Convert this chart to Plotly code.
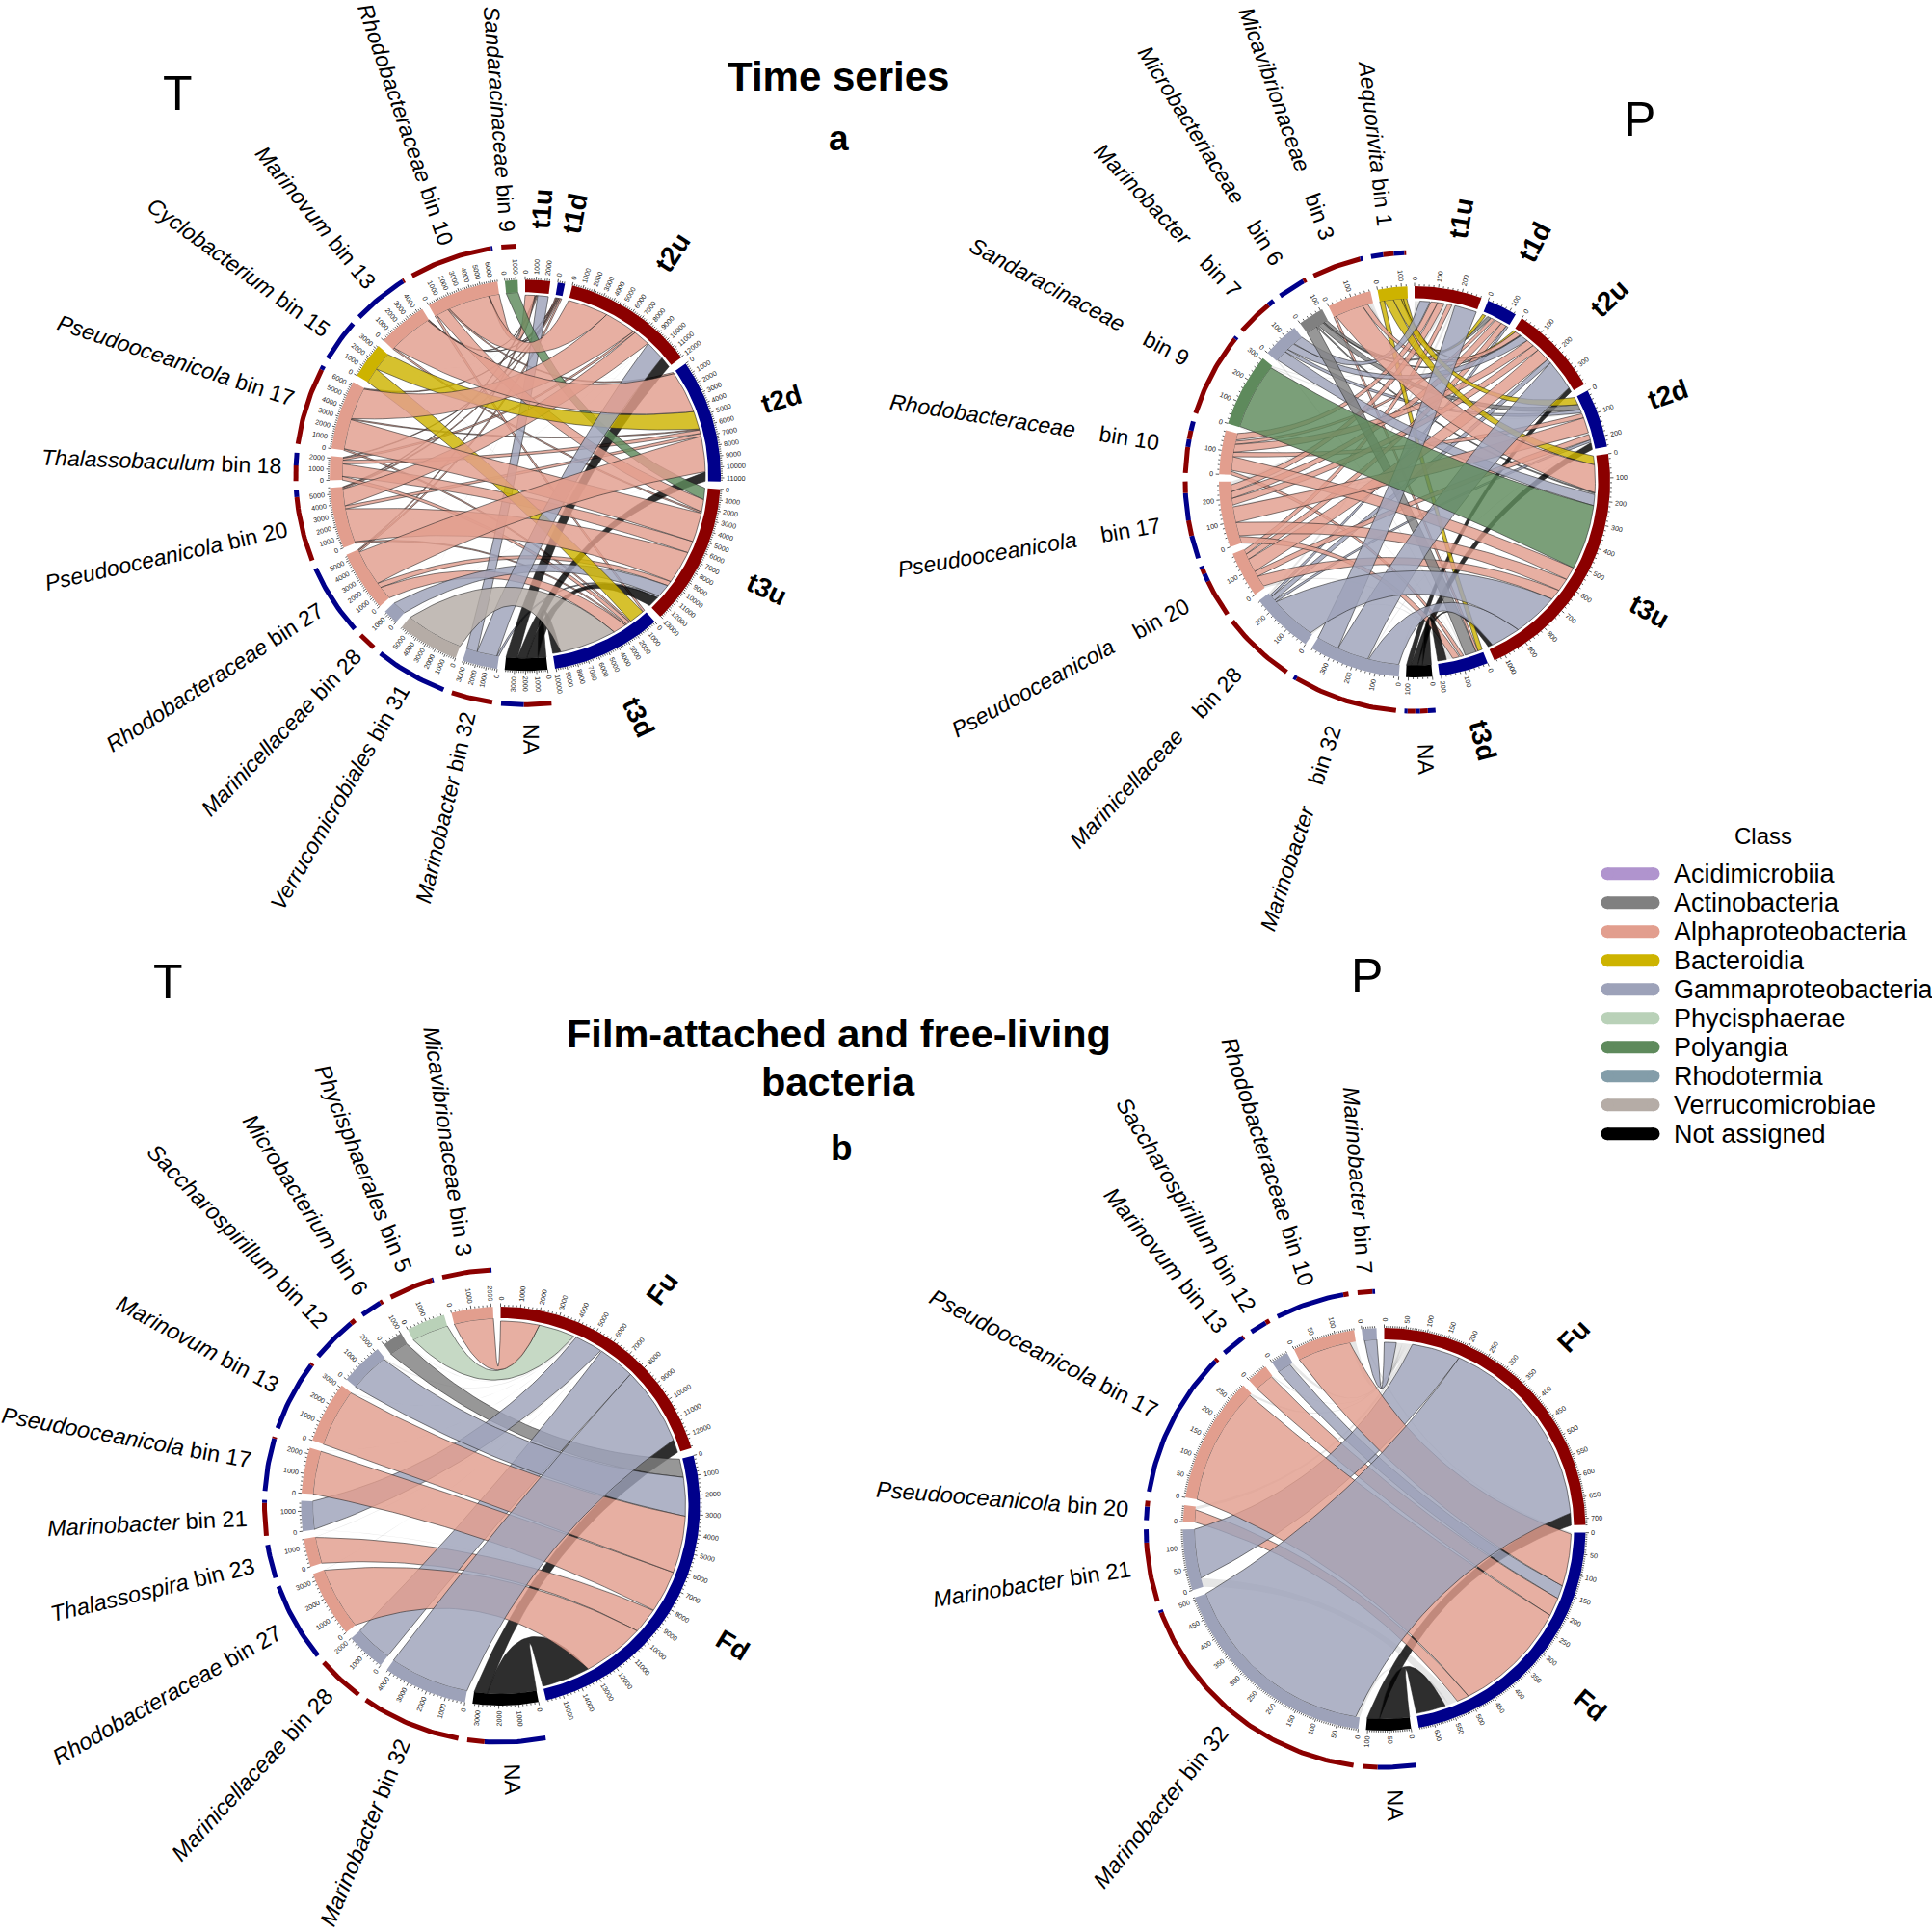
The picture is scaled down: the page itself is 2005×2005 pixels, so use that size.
import math
import re
import plotly.graph_objects as go

CLASS_COLORS = {
    "Acidimicrobiia": "#B094CE", "Actinobacteria": "#808080", "Alphaproteobacteria": "#E29E8E",
    "Bacteroidia": "#CDB300", "Gammaproteobacteria": "#9DA2B9", "Phycisphaerae": "#B9D1B8",
    "Polyangia": "#5E8A5C", "Rhodotermia": "#839DA9", "Verrucomicrobiae": "#B5ACA6", "Not assigned": "#000000",
}
LEGEND_NAMES = list(CLASS_COLORS)
RED, BLUE = "#8B0000", "#00008B"
AL, GA, BA, AC, PO, VE, PH, NO = ("Alphaproteobacteria", "Gammaproteobacteria", "Bacteroidia", "Actinobacteria",
                                  "Polyangia", "Verrucomicrobiae", "Phycisphaerae", "Not assigned")
S = "\u00a0\u00a0\u00a0\u00a0"

# ---------- Panel a, T ----------
A_T_SAMPLES = ["t1u", "t1d", "t2u", "t2d", "t3u", "t3d"]
A_T_BINS = ["NA", "<i>Marinobacter</i> bin 32", "<i>Verrucomicrobiales</i> bin 31", "<i>Marinicellaceae</i> bin 28",
            "<i>Rhodobacteraceae</i> bin 27", "<i>Pseudooceanicola</i> bin 20", "<i>Thalassobaculum</i> bin 18",
            "<i>Pseudooceanicola</i> bin 17", "<i>Cyclobacterium</i> bin 15", "<i>Marinovum</i> bin 13",
            "<i>Rhodobacteraceae</i> bin 10", "<i>Sandaracinaceae</i> bin 9"]
A_T_CLASS = [NO, GA, VE, GA, AL, AL, AL, AL, BA, AL, AL, PO]
A_T_FLOWS = [
    {"t3d": 800, "t3u": 1100, "t2d": 900, "t2u": 1100},
    {"t3u": 200, "t2u": 1950, "t1u": 1050},
    {"t3d": 5600},
    {"t3u": 1350},
    {"t3d": 1300, "t3u": 500, "t2d": 3500, "t1d": 150, "t1u": 100},
    {"t3d": 150, "t3u": 3300, "t2d": 300, "t2u": 1650, "t1d": 120, "t1u": 80},
    {"t3d": 350, "t3u": 1200, "t2d": 350, "t2u": 200, "t1d": 80},
    {"t3d": 150, "t3u": 2900, "t2d": 100, "t2u": 3100, "t1d": 100},
    {"t3d": 1500, "t2d": 1800},
    {"t3u": 150, "t2d": 4200, "t1d": 100, "t1u": 50},
    {"t3d": 200, "t3u": 1200, "t2d": 150, "t2u": 4000, "t1d": 100, "t1u": 950},
    {"t3u": 1150},
]
A_T_FAINT = [
    {}, {"t3d": 20}, {"t2d": 25, "t1u": 15}, {"t2u": 15, "t1d": 15}, {"t2u": 20}, {}, {"t1u": 10},
    {"t1u": 15}, {"t1u": 15}, {"t3d": 25}, {}, {"t2d": 15},
]
A_T_RING = [[("r", .55), ("b", .45)], [("r", 1)], [("b", 1)], [("r", 1)], [("b", 1)], [("r", .9), ("b", .1)],
            [("r", .55), ("b", .45)], [("r", .95), ("b", .05)], [("b", 1)], [("b", .97), ("r", .03)],
            [("r", .98), ("b", .02)], [("r", 1)]]

# ---------- Panel a, P ----------
A_P_SAMPLES = ["t1u", "t1d", "t2u", "t2d", "t3u", "t3d"]
A_P_BINS = ["NA", f"<i>Marinobacter</i>{S}bin 32", f"<i>Marinicellaceae</i>{S}bin 28",
            f"<i>Pseudooceanicola</i>{S}bin 20", f"<i>Pseudooceanicola</i>{S}bin 17",
            f"<i>Rhodobacteraceae</i>{S}bin 10", f"<i>Sandaracinaceae</i>{S}bin 9", f"<i>Marinobacter</i>{S}bin 7",
            f"<i>Microbacteriaceae</i>{S}bin 6", f"<i>Micavibrionaceae</i>{S}bin 3", "<i>Aequorivita</i> bin 1"]
A_P_CLASS = [NO, GA, GA, AL, AL, AL, PO, GA, AC, AL, BA]
A_P_FLOWS = [
    {"t3d": 40, "t3u": 20, "t2d": 30, "t2u": 20},
    {"t3u": 135, "t2u": 140, "t1u": 100},
    {"t3u": 205, "t2d": 10, "t2u": 20, "t1d": 10},
    {"t3u": 50, "t2d": 25, "t2u": 60, "t1d": 25, "t1u": 20},
    {"t3d": 30, "t3u": 60, "t2d": 70, "t2u": 30, "t1d": 30, "t1u": 30},
    {"t3d": 15, "t3u": 60, "t2d": 20, "t2u": 35, "t1d": 15, "t1u": 30},
    {"t3u": 295},
    {"t3u": 50, "t2d": 15, "t2u": 35, "t1u": 45},
    {"t3d": 50, "t3u": 5, "t2d": 25, "t2u": 5, "t1d": 15},
    {"t3d": 10, "t3u": 125, "t2u": 25},
    {"t3d": 20, "t3u": 40, "t2d": 35, "t2u": 10, "t1d": 15},
]
A_P_FAINT = [
    {}, {"t3d": 5, "t2d": 4}, {"t3d": 10, "t1u": 10}, {"t3d": 10, "t1u": 4}, {"t1u": 15, "t2d": 8, "t3d": 4},
    {"t3d": 5, "t1d": 5}, {"t2d": 5, "t1u": 5, "t3d": 3},
    {"t3d": 5, "t1d": 3}, {"t3u": 4, "t1u": 4}, {"t1u": 15, "t1d": 10}, {"t1u": 5},
]
A_P_RING = [[("b", .25), ("r", .25), ("b", .15), ("r", .25), ("b", .1)], [("r", .97), ("b", .03)], [("r", 1)],
            [("r", .7), ("b", .15), ("r", .1), ("b", .05)], [("b", .3), ("r", .2), ("b", .35), ("r", .15)],
            [("r", .5), ("b", .15), ("r", .17), ("b", .18)], [("r", .97), ("b", .03)], [("r", .85), ("b", .15)],
            [("b", .9), ("r", .1)], [("r", .95), ("b", .05)], [("b", .35), ("r", .3), ("b", .3), ("r", .05)]]

# ---------- Panel b, T ----------
B_T_SAMPLES = ["Fu", "Fd"]
B_T_BINS = ["NA", "<i>Marinobacter</i> bin 32", "<i>Marinicellaceae</i> bin 28", "<i>Rhodobacteraceae</i> bin 27",
            "<i>Thalassospira</i> bin 23", "<i>Marinobacter</i> bin 21", "<i>Pseudooceanicola</i> bin 17",
            "<i>Marinovum</i> bin 13", "<i>Saccharospirillum</i> bin 12", "<i>Microbacterium</i> bin 6",
            "<i>Phycisphaerales</i> bin 5", "<i>Micavibrionaceae</i> bin 3"]
B_T_CLASS = [NO, GA, GA, AL, AL, GA, AL, AL, GA, AC, PH, AL]
B_T_FLOWS = [{"Fd": 2620, "Fu": 700}, {"Fu": 4250}, {"Fu": 2000}, {"Fd": 3350}, {"Fd": 1400}, {"Fu": 1500},
             {"Fd": 2300}, {"Fd": 3100}, {"Fd": 2100}, {"Fd": 1000}, {"Fu": 1950}, {"Fu": 2100}]
B_T_FAINT = [{}, {}, {}, {"Fu": 20}, {"Fu": 30}, {"Fd": 20}, {"Fu": 15}, {"Fu": 20}, {"Fu": 80}, {"Fu": 30}, {}, {}]
B_T_RING = [[("b", .78), ("r", .22)], [("r", 1)], [("r", 1)], [("b", 1)], [("b", 1)], [("r", .92), ("b", .08)],
            [("b", .97), ("r", .03)], [("b", .97), ("r", .03)], [("b", .9), ("r", .1)], [("b", .88), ("r", .12)],
            [("r", .97), ("b", .03)], [("r", .97), ("b", .03)]]

# ---------- Panel b, P ----------
B_P_SAMPLES = ["Fu", "Fd"]
B_P_BINS = ["NA", "<i>Marinobacter</i> bin 32", "<i>Marinobacter</i> bin 21", "<i>Pseudooceanicola</i> bin 20",
            "<i>Pseudooceanicola</i> bin 17", "<i>Marinovum</i> bin 13", "<i>Saccharospirillum</i> bin 12",
            "<i>Rhodobacteraceae</i> bin 10", "<i>Marinobacter</i> bin 7"]
B_P_CLASS = [NO, GA, GA, AL, AL, AL, GA, AL, GA]
B_P_FLOWS = [{"Fd": 74, "Fu": 30}, {"Fu": 495}, {"Fu": 120}, {"Fd": 30}, {"Fd": 288}, {"Fd": 46}, {"Fd": 33},
             {"Fd": 130}, {"Fu": 30}]
B_P_FAINT = [{}, {"Fd": 10}, {"Fd": 22}, {"Fu": 8}, {"Fu": 6}, {"Fu": 3}, {"Fu": 8}, {"Fu": 15}, {"Fd": 4}]
B_P_RING = [[("b", .72), ("r", .28)], [("r", .99), ("b", .01)], [("r", .82), ("b", .18)], [("b", .7), ("r", .3)],
            [("b", .98), ("r", .02)], [("b", .95), ("r", .05)], [("b", .8), ("r", .2)], [("b", .93), ("r", .07)],
            [("r", .85), ("b", .15)]]

PANELS = [
    dict(s=A_T_SAMPLES, b=A_T_BINS, c=A_T_CLASS, f=A_T_FLOWS, w=A_T_FAINT, ring=A_T_RING, cx=545, cy=493.3, R=203,
         rr=238, lr=253, sr=277, gap=2.2, major=1000, sub=5, fs=23, bw=13),
    dict(s=A_P_SAMPLES, b=A_P_BINS, c=A_P_CLASS, f=A_P_FLOWS, w=A_P_FAINT, ring=A_P_RING, cx=1468, cy=500, R=203,
         rr=238, lr=268, sr=278, gap=2.1, major=100, sub=5, fs=23, bw=12.5),
    dict(s=B_T_SAMPLES, b=B_T_BINS, c=B_T_CLASS, f=B_T_FLOWS, w=B_T_FAINT, ring=B_T_RING, cx=519.5, cy=1563, R=207,
         rr=245, lr=263, sr=281, gap=2.2, major=1000, sub=5, fs=23.5, bw=12),
    dict(s=B_P_SAMPLES, b=B_P_BINS, c=B_P_CLASS, f=B_P_FLOWS, w=B_P_FAINT, ring=B_P_RING, cx=1436.5, cy=1587, R=209,
         rr=247, lr=266, sr=281, gap=2.2, major=50, sub=10, fs=23.5, bw=12),
]
TITLES = [("<b>Time series</b>", 870, 79, 42), ("<b>a</b>", 870, 143, 37), ("T", 184, 97, 50), ("P", 1701, 124, 50),
          ("T", 174, 1019, 50), ("P", 1418, 1013, 50), ("<b>Film-attached and free-living</b>", 870, 1072, 41.5),
          ("<b>bacteria</b>", 870, 1122, 41.5), ("<b>b</b>", 873, 1191, 37)]
FONT = "Liberation Sans"

NARROW = {"i": .222, "j": .222, "l": .222, "t": .278, "f": .278, "r": .333, " ": .278, "\u00a0": .278, "m": .833,
          "c": .5, "s": .5, "k": .5, "v": .5, "x": .5, "y": .5, "z": .5, "T": .611, "P": .667, "R": .722, "M": .833,
          "A": .667, "N": .722, "S": .667, "C": .722, "F": .611, "V": .667}


def text_width(t, size):
    t = re.sub(r"</?[ib]>", "", t)
    return sum(NARROW.get(ch, .556) for ch in t) * size


def rgba(hex_color, a):
    h = hex_color.lstrip("#")
    return f"rgba({int(h[:2],16)},{int(h[2:4],16)},{int(h[4:],16)},{a})"


def polar(p, r, deg):
    t = math.radians(deg)
    return p["cx"] + r * math.cos(t), p["cy"] - r * math.sin(t)


def arc_pts(p, r, a1, a2):
    n = max(2, int(abs(a1 - a2) / 1.0) + 2)
    return [polar(p, r, a1 + (a2 - a1) * i / (n - 1)) for i in range(n)]


def bez(p, p0, p1, k=.5):
    mx, my = (p0[0] + p1[0]) / 2 - p["cx"], (p0[1] + p1[1]) / 2 - p["cy"]
    c = (p["cx"] + k * mx, p["cy"] + k * my)
    out = []
    for i in range(1, 40):
        u = i / 40
        out.append(((1 - u) ** 2 * p0[0] + 2 * u * (1 - u) * c[0] + u * u * p1[0],
                    (1 - u) ** 2 * p0[1] + 2 * u * (1 - u) * c[1] + u * u * p1[1]))
    return out


def radial_angle(deg):
    d = (deg + 180) % 360 - 180
    return -d if -90 <= d <= 90 else 180 - d


fig = go.Figure()
annots = []


def add_text(txt, x, y, size, angle=0, color="black", xa="center"):
    annots.append(dict(text=txt, x=x, y=y, xref="x", yref="y", showarrow=False, xanchor=xa, yanchor="middle",
                       textangle=angle, font=dict(family=FONT, size=size, color=color), borderpad=0, borderwidth=0))


def add_poly(pts, fill, line=None, lw=0):
    xs = [round(q[0], 2) for q in pts] + [round(pts[0][0], 2)]
    ys = [round(q[1], 2) for q in pts] + [round(pts[0][1], 2)]
    fig.add_trace(go.Scatter(x=xs, y=ys, mode="lines", fill="toself", fillcolor=fill, hoverinfo="skip",
                             showlegend=False, line=dict(color=line or "rgba(0,0,0,0)", width=lw)))


def draw_panel(p):
    samples, bins = p["s"], p["b"]
    names = samples + bins
    n = len(names)
    idx = {nm: i for i, nm in enumerate(names)}
    links = []
    for bi, bn in enumerate(bins):
        for s, v in p["f"][bi].items():
            links.append(dict(bin=bn, sam=s, v=v, col=CLASS_COLORS[p["c"][bi]], faint=False))
        for s, v in p["w"][bi].items():
            links.append(dict(bin=bn, sam=s, v=v, col="#808080", faint=True))
    totals = {nm: 0 for nm in names}
    for l in links:
        totals[l["bin"]] += l["v"]
        totals[l["sam"]] += l["v"]
    scale = (360 - n * p["gap"]) / sum(totals.values())
    start, a = {}, 90
    for nm in names:
        start[nm] = a
        a -= totals[nm] * scale + p["gap"]
    pos = {}
    for nm in names:
        mine = [l for l in links if nm in (l["bin"], l["sam"])]
        other = lambda l: l["sam"] if l["bin"] == nm else l["bin"]
        mine.sort(key=lambda l: -((idx[other(l)] - idx[nm]) % n))
        a = start[nm]
        for l in mine:
            pos[(id(l), nm)] = (a, a - l["v"] * scale)
            a -= l["v"] * scale
    R = p["R"]
    r_bar = R - p["bw"]
    # largest flows are drawn on top
    for l in sorted(links, key=lambda q: (not q["faint"], q["v"])):
        a1, a2 = pos[(id(l), l["bin"])]
        b1, b2 = pos[(id(l), l["sam"])]
        ra, rb = r_bar, r_bar - 3
        A = arc_pts(p, ra, a1, a2)
        B = arc_pts(p, rb, b1, b2)
        pts = A + bez(p, A[-1], B[0]) + B + bez(p, B[-1], A[0])
        if l["faint"]:
            add_poly(pts, "rgba(128,128,128,0.2)")
        else:
            add_poly(pts, rgba(l["col"], .82), "rgba(30,30,30,0.8)", .7)
    tx, ty = [], []
    for nm in names:
        a0 = start[nm]
        a1 = a0 - totals[nm] * scale
        col = RED if nm in samples and nm[-1] == "u" else BLUE
        if nm in bins:
            col = CLASS_COLORS[p["c"][bins.index(nm)]]
        add_poly(arc_pts(p, R, a0, a1) + arc_pts(p, r_bar, a1, a0), col)
        step = p["major"] / p["sub"]
        k = 0
        while k * step <= totals[nm] + 1e-6:
            ang = a0 - k * step * scale
            is_major = k % p["sub"] == 0
            q0, q1 = polar(p, R, ang), polar(p, R + (3.5 if is_major else 2), ang)
            tx += [round(q0[0], 2), round(q1[0], 2), None]
            ty += [round(q0[1], 2), round(q1[1], 2), None]
            if is_major:
                lab = str(int(k * step))
                w = text_width(lab, 7.2)
                x, y = polar(p, R + 6 + w / 2, ang)
                add_text(lab, x, y, 7.2, radial_angle(ang), "#222222")
            k += 1
    fig.add_trace(go.Scatter(x=tx, y=ty, mode="lines", hoverinfo="skip", showlegend=False,
                             line=dict(color="#111111", width=.7)))
    for bi, bn in enumerate(bins):
        a0 = start[bn]
        span = totals[bn] * scale
        a = a0
        tot = sum(v for _, v in p["ring"][bi])
        for c, v in p["ring"][bi]:
            seg = arc_pts(p, p["rr"], a, a - span * v / tot)
            fig.add_trace(go.Scatter(x=[round(q[0], 2) for q in seg], y=[round(q[1], 2) for q in seg], mode="lines",
                                     hoverinfo="skip", showlegend=False,
                                     line=dict(color=RED if c == "r" else BLUE, width=5)))
            a -= span * v / tot
        mid = a0 - span / 2
        w = text_width(bn, p["fs"])
        extra = 5 if bn == "NA" else 0
        x, y = polar(p, p["lr"] + extra + w / 2, mid + (1 if bn == "NA" else 0))
        add_text(bn, x, y, p["fs"], radial_angle(mid))
    for s in samples:
        mid = start[s] - totals[s] * scale / 2
        x, y = polar(p, p["sr"], mid)
        add_text(f"<b>{s}</b>", x, y, 28, radial_angle(mid))


for panel in PANELS:
    draw_panel(panel)

for txt, x, y, size in TITLES:
    add_text(txt, x, y, size)

add_text("Class", 1830, 867, 24)
for i, name in enumerate(LEGEND_NAMES):
    yy = 906.7 + 30 * i
    fig.add_trace(go.Scatter(x=[1668, 1716], y=[yy, yy], mode="lines+markers", hoverinfo="skip", showlegend=False,
                             line=dict(color=CLASS_COLORS[name], width=13),
                             marker=dict(color=CLASS_COLORS[name], size=13, line=dict(width=0))))
    add_text(name, 1737, yy, 27, xa="left")

fig.update_layout(
    width=2005, height=2005, margin=dict(l=0, r=0, t=0, b=0), paper_bgcolor="white", plot_bgcolor="white",
    showlegend=False, hovermode=False, annotations=annots,
    xaxis=dict(range=[0, 2005], visible=False, fixedrange=True),
    yaxis=dict(range=[2005, 0], visible=False, fixedrange=True),
)
fig.write_html("out.html", config={"displayModeBar": False},
               post_script="document.body.style.margin='0';document.body.style.overflow='hidden';")
